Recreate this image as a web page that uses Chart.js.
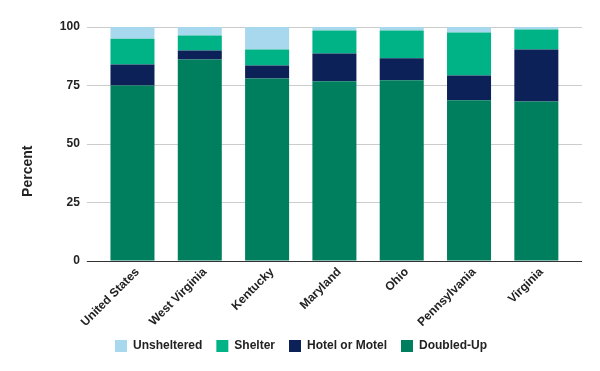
<!DOCTYPE html>
<html>
<head>
<meta charset="utf-8">
<script src="https://cdn.jsdelivr.net/npm/chart.js@4"></script>
<style>
  body { margin: 0; background: #fff; }
  canvas { display: block; }
</style>
</head>
<body>
<canvas id="chart" width="600" height="371"></canvas>
<script>
// Living situation of homeless students, percent by state
const states = ['United States', 'West Virginia', 'Kentucky', 'Maryland', 'Ohio', 'Pennsylvania', 'Virginia'];
const doubledUp = [75.0, 86.1, 78.0, 76.8, 77.2, 68.7, 68.2];
const hotelMotel = [9.0, 3.9, 5.6, 11.9, 9.4, 10.6, 22.2];
const shelter = [11.0, 6.4, 6.8, 9.8, 11.9, 18.4, 8.5];
const unsheltered = [5.0, 3.6, 9.6, 1.5, 1.5, 2.3, 1.1];
const yTicks = [0, 25, 50, 75, 100];

Chart.defaults.font.family = '"Liberation Sans", Arial, sans-serif';
Chart.defaults.font.weight = 'bold';
Chart.defaults.font.size = 12;
Chart.defaults.color = '#222';

const gridColor = ctx => (ctx.tick && ctx.tick.value === 0) ? '#333' : '#cccccc';

// the axis title sits a little below the middle of the plot in the original
const yTitle = 'Percent' + '\u00a0'.repeat(14);

const ctx = document.getElementById('chart').getContext('2d');
const chart = new Chart(ctx, {
    type: 'bar',
    data: {
        labels: states,
        datasets: [
            { label: 'Doubled-Up', data: doubledUp, backgroundColor: '#007f5f' },
            { label: 'Hotel or Motel', data: hotelMotel, backgroundColor: '#0c2157' },
            { label: 'Shelter', data: shelter, backgroundColor: '#00b386' },
            { label: 'Unsheltered', data: unsheltered, backgroundColor: '#a8d8ed' }
        ]
    },
    options: {
        responsive: false,
        animation: false,
        datasets: {
            bar: { barPercentage: 0.654, categoryPercentage: 1, borderWidth: 0 }
        },
        layout: { padding: { left: 20, right: 18, top: 27, bottom: 9 } },
        scales: {
            x: {
                stacked: true,
                grid: { display: false },
                border: { display: false },
                ticks: { maxRotation: 45, minRotation: 45, padding: -4, labelOffset: 5 },
                afterFit: s => { s.height = 65; }
            },
            y: {
                stacked: true,
                min: 0,
                max: 100,
                afterBuildTicks: s => { s.ticks = yTicks.map(v => ({ value: v })); },
                border: { display: false },
                grid: { color: gridColor, tickLength: 12, lineWidth: 1 },
                ticks: { padding: 7 },
                title: { display: true, text: yTitle, font: { size: 14, weight: 'bold' }, padding: { top: 0, bottom: 16 } }
            },
            y2: {
                position: 'right',
                min: 0,
                max: 100,
                afterBuildTicks: s => { s.ticks = yTicks.map(v => ({ value: v })); },
                border: { display: false },
                grid: { color: gridColor, tickLength: 12, drawOnChartArea: false },
                ticks: { display: false }
            }
        },
        plugins: {
            legend: {
                position: 'bottom',
                reverse: true,
                labels: { boxWidth: 12, boxHeight: 12, padding: 14, font: { size: 12, weight: 'bold' } }
            },
            tooltip: { enabled: false }
        }
    }
});
</script>
</body>
</html>
